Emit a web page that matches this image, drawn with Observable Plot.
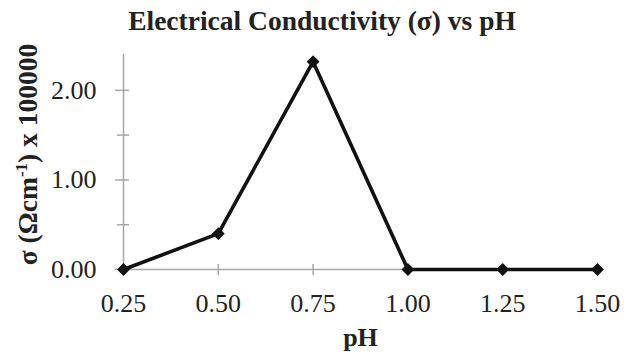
<!DOCTYPE html>
<html><head><meta charset="utf-8">
<script src="https://cdn.jsdelivr.net/npm/d3@7"></script>
<script src="https://cdn.jsdelivr.net/npm/@observablehq/plot@0.6"></script>
<style>body{margin:0;background:#fff}</style>
</head><body><div id="chart"></div>
<script>
const pH = [0.25, 0.50, 0.75, 1.00, 1.25, 1.50];
const sigma = [0, 0.40, 2.32, 0, 0, 0];
const xTicks = [0.25, 0.50, 0.75, 1.00, 1.25, 1.50];
const yMajor = [0, 1, 2];
const yMinor = [0.5, 1.5];
const title = "Electrical Conductivity (σ) vs pH";
const xLabel = "pH";
const yLabel = "σ (Ωcm-1) x 100000";

const data = pH.map((x, i) => ({x, y: sigma[i]}));
const font = "'Liberation Serif', 'Times New Roman', serif";
const axisGray = "#a6a6a6";
const x0 = xTicks[0];

const chart = Plot.plot({
  width: 630, height: 357,
  marginLeft: 123, marginRight: 33, marginTop: 54, marginBottom: 88,
  x: {domain: [0.25, 1.5], axis: null},
  y: {domain: [0, 2.4], axis: null},
  style: {fontFamily: font, background: "#fff"},
  marks: [
    Plot.ruleY([0], {stroke: axisGray, strokeWidth: 1.5}),
    Plot.ruleX([x0], {y1: 0, y2: 2.4, stroke: axisGray, strokeWidth: 1.5}),
    Plot.ruleY(yMajor, {y: d => d, x1: x0, x2: x0, insetLeft: -8, insetRight: -6, stroke: axisGray, strokeWidth: 1.5}),
    Plot.ruleY(yMinor, {y: d => d, x1: x0, x2: x0, insetLeft: -6, insetRight: -6, stroke: axisGray, strokeWidth: 1.5}),
    Plot.ruleX(xTicks, {x: d => d, y1: 0, y2: 0, insetTop: -5, insetBottom: -6, stroke: axisGray, strokeWidth: 1.5}),
    Plot.text(yMajor, {x: x0, y: d => d, text: d => d.toFixed(2), textAnchor: "end", dx: -27, fontSize: 26, fill: "#222"}),
    Plot.text(xTicks, {x: d => d, y: 0, text: d => d.toFixed(2), dy: 34, fontSize: 26, fill: "#222"}),
    Plot.line(data, {x: "x", y: "y", stroke: "#111", strokeWidth: 3.6}),
    Plot.dot(data, {x: "x", y: "y", symbol: "diamond2", r: 5.8, fill: "#111", stroke: "none"}),
    Plot.text([title], {frameAnchor: "top", lineAnchor: "middle", dy: -33.3, dx: -38.5, fontSize: 27.5, fontWeight: "bold", fill: "#222"}),
    Plot.text([xLabel], {frameAnchor: "bottom", lineAnchor: "middle", dy: 67.7, fontSize: 26, fontWeight: "bold", fill: "#222"}),
    Plot.text([yLabel], {frameAnchor: "left", fontSize: 27.5, fontWeight: "bold", fill: "#222"})
  ]
});
document.getElementById("chart").append(chart);
// y label: rotate, position and add the superscript
chart.querySelectorAll("text").forEach(t => {
  if (t.textContent === yLabel) {
    t.removeAttribute("x"); t.removeAttribute("y"); t.removeAttribute("dx");
    t.setAttribute("transform", "translate(28,154) rotate(-90)");
    t.setAttribute("text-anchor", "middle");
    t.setAttribute("dy", "0.32em");
    t.innerHTML = "σ (Ωcm<tspan dy='-10' font-size='17'>-1</tspan><tspan dy='10'>) x 100000</tspan>";
  }
});
</script></body></html>
